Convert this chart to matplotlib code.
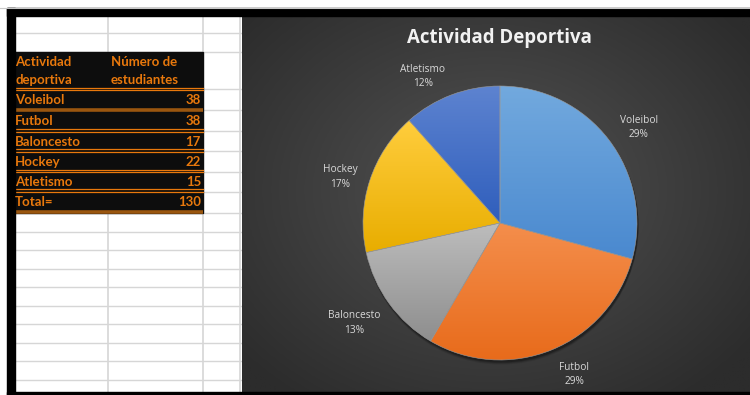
import numpy as np
import matplotlib
matplotlib.use("Agg")
import matplotlib.pyplot as plt
from matplotlib.colors import LinearSegmentedColormap
from matplotlib.patches import Rectangle, Circle

# --- data -------------------------------------------------------------
actividades = ["Voleibol", "Futbol", "Baloncesto", "Hockey", "Atletismo"]
estudiantes = [38, 38, 17, 22, 15]
total_label = "Total="
header_col1 = ["Actividad", "deportiva"]
header_col2 = ["Número de", "estudiantes"]
chart_title = "Actividad Deportiva"

# slice gradients (top colour, bottom colour)
slice_colors = [
    ("#72a9de", "#4a89cf"),
    ("#f48e4c", "#e86b1b"),
    ("#bdbdbd", "#8e8e8e"),
    ("#ffcd3d", "#e8ad00"),
    ("#5d83d0", "#2f5ebc"),
]

W, H = 750, 395
fig = plt.figure(figsize=(7.5, 3.95), dpi=100)
fig.patch.set_facecolor("white")

# sheet layer, pixel coordinates with y pointing down
ax = fig.add_axes([0, 0, 1, 1])
ax.set_xlim(0, W)
ax.set_ylim(H, 0)
ax.axis("off")

grid_c = "#d6d6d6"
# spreadsheet grid
col_x = [108, 203, 240]
row_y = [33, 51.5, 89, 110, 131, 151, 172, 192, 213,
         231.7, 250, 268.5, 287, 305.5, 324, 342.5, 361, 379.5]
for yy in row_y:
    ax.plot([15, 242], [yy, yy], color=grid_c, lw=1.0, zorder=1)
for xx in col_x:
    ax.plot([xx, xx], [16, 392], color=grid_c, lw=1.2, zorder=1)

# black window frame
ax.add_patch(Rectangle((7, 8), W - 7, 8, color="black", zorder=5))
ax.add_patch(Rectangle((7, 8), 8, H - 8, color="black", zorder=5))
ax.add_patch(Rectangle((7, 392), W - 7, 3, color="black", zorder=5))
ax.plot([0, W], [7.5, 7.5], color="#c8c8c8", lw=0.8, zorder=5)

# table block
tbl_top, tbl_bot = 51.5, 213
ax.add_patch(Rectangle((15, tbl_top), 203 - 15, tbl_bot - tbl_top,
                       color="#0d0d0d", zorder=2))
orange = "#e8780c"
brown = "#9a560f"
tfont = dict(family=["Lato", "DejaVu Sans"], fontweight="bold",
             fontsize=9.5, color=orange, zorder=6)

ax.text(15, 61.5, header_col1[0], va="center", ha="left", **tfont)
ax.text(15, 80.5, header_col1[1], va="center", ha="left", **tfont)
ax.text(111, 61.5, header_col2[0], va="center", ha="left", **tfont)
ax.text(111, 80.5, header_col2[1], va="center", ha="left", **tfont)

row_centers = [100.5, 121, 141.5, 162, 182.5, 202.5]
row_bottoms = [89, 110, 130.5, 150.5, 171, 190.5, 211.5]
names = actividades + [total_label]
vals = estudiantes + [sum(estudiantes)]
for yc, n, v in zip(row_centers, names, vals):
    ax.text(15, yc, n, va="center", ha="left", **tfont)
    ax.text(201, yc, str(v), va="center", ha="right", **tfont)

thick_rows = {1, 6}
for i, yb in enumerate(row_bottoms):
    if i in thick_rows:
        ax.plot([15, 203], [yb, yb], color=brown, lw=2.6, zorder=4,
                solid_capstyle="butt")
    else:
        ax.plot([15, 203], [yb - 1.2, yb - 1.2], color=orange, lw=0.9, zorder=4)
        ax.plot([15, 203], [yb + 1.2, yb + 1.2], color=orange, lw=0.9, zorder=4)

# chart area with radial dark gradient
cx0, cx1, cy0, cy1 = 242, W, 16, 392
gx = np.linspace(cx0, cx1, 300)
gy = np.linspace(cy0, cy1, 220)
GX, GY = np.meshgrid(gx, gy)
d = np.sqrt(((GX - 490) / 330) ** 2 + ((GY - 190) / 260) ** 2)
bg_cmap = LinearSegmentedColormap.from_list("bg", ["#535353", "#2c2c2c"])
ax.imshow(np.clip(d, 0, 1), extent=[cx0, cx1, cy1, cy0], cmap=bg_cmap,
          vmin=0, vmax=1, aspect="auto", zorder=3, interpolation="bilinear")

ax.text(499, 38.5, chart_title, ha="center", va="center", color="#f2f2f2",
        fontsize=13.4, fontweight="bold", family=["Open Sans", "DejaVu Sans"],
        zorder=6)

# pie layer, pixel coordinates with y pointing up
pax = fig.add_axes([0, 0, 1, 1])
pax.set_xlim(0, W)
pax.set_ylim(0, H)
pax.axis("off")
pax.patch.set_alpha(0)

center = (500, H - 223)
radius = 137

# soft drop shadow
for k, a in [(4, 0.10), (3, 0.15), (2, 0.25)]:
    pax.add_patch(Circle((center[0] + 1, center[1] - k), radius + 0.5,
                         color="black", alpha=a, lw=0, zorder=1))

total = sum(estudiantes)
pct_labels = [f"{n}\n{round(100 * v / total)}%" for n, v in zip(actividades, estudiantes)]
wedges, texts = pax.pie(
    estudiantes, labels=pct_labels, startangle=90, counterclock=False,
    center=center, radius=radius, labeldistance=1.24,
    wedgeprops=dict(linewidth=0.4, edgecolor="#9a9a9a"),
    textprops=dict(color="#d9d9d9", fontsize=7.3,
                   family=["Open Sans", "DejaVu Sans"], ha="center",
                   va="center", linespacing=1.45),
    frame=False,
)
pax.set_xlim(0, W)
pax.set_ylim(0, H)
pax.set_aspect("auto")

# best-fit style nudges for the data labels (pixels)
label_nudge = {"Voleibol": (4, -7.5), "Futbol": (10, 6), "Baloncesto": (-8, 0),
               "Hockey": (2, -6.5), "Atletismo": (-17, -12.5)}
for t, n in zip(texts, actividades):
    t.set_horizontalalignment("center")
    x, y = t.get_position()
    dx, dy = label_nudge[n]
    t.set_position((x + dx, y + dy))

# vertical gradient fill inside every slice
for w, (c_top, c_bot) in zip(wedges, slice_colors):
    w.set_facecolor("none")
    w.set_zorder(3)
    ext = w.get_path().get_extents()
    cm = LinearSegmentedColormap.from_list("s", [c_bot, c_top])
    grad = np.linspace(0, 1, 200).reshape(-1, 1)
    im = pax.imshow(grad, extent=[ext.x0, ext.x1, ext.y0, ext.y1],
                    origin="lower", cmap=cm, aspect="auto", zorder=2,
                    interpolation="bilinear")
    im.set_clip_path(w)

fig.savefig("out.png", dpi=100)
